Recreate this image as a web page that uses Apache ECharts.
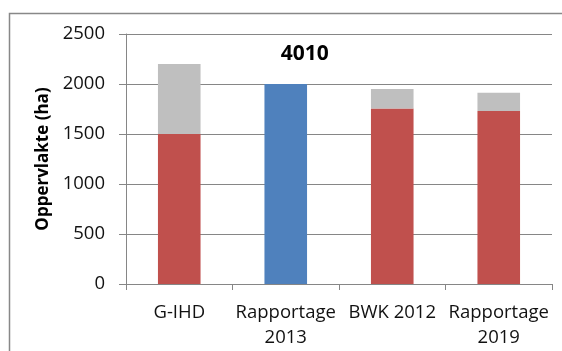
<!DOCTYPE html>
<html>
<head>
<meta charset="utf-8">
<script src="https://cdn.jsdelivr.net/npm/echarts@6/dist/echarts.min.js"></script>
<style>html,body{margin:0;padding:0;background:#fff;}#c{width:562px;height:351px;}</style>
</head>
<body>
<div id="c"></div>
<script>
var categories = ['G-IHD', 'Rapportage\n2013', 'BWK 2012', 'Rapportage\n2019'];
var redValues = [1500, null, 1755, 1730];
var greyValues = [700, null, 195, 182];
var blueValues = [null, 2000, null, null];
var blueLabelText = '4010';
var yTicks = [0, 500, 1000, 1500, 2000, 2500];

var chart = echarts.init(document.getElementById('c'), null, {renderer: 'canvas'});
var font = '"Open Sans", sans-serif';
chart.setOption({
  animation: false,
  backgroundColor: '#ffffff',
  graphic: [{
    type: 'rect',
    shape: {x: 9.5, y: 13.5, width: 600, height: 400},
    style: {fill: 'none', stroke: '#888888', lineWidth: 1.5},
    silent: true
  }],
  grid: {left: 126, right: 10, top: 34, bottom: 67},
  xAxis: {
    type: 'category',
    data: categories,
    axisLine: {lineStyle: {color: '#868686', width: 1}},
    axisTick: {show: true, length: 6, alignWithLabel: false, lineStyle: {color: '#868686'}},
    axisLabel: {color: '#111', fontFamily: font, fontSize: 18.5, lineHeight: 25, margin: 16, interval: 0}
  },
  yAxis: {
    type: 'value',
    min: yTicks[0],
    max: yTicks[yTicks.length - 1],
    interval: 500,
    name: 'Oppervlakte (ha)',
    nameLocation: 'middle',
    nameGap: 66,
    nameTextStyle: {color: '#000', fontFamily: font, fontSize: 17, fontWeight: 'bold'},
    axisLine: {show: true, lineStyle: {color: '#868686', width: 1}},
    axisTick: {show: true, length: 7, lineStyle: {color: '#868686'}},
    splitLine: {lineStyle: {color: '#868686', width: 1}},
    axisLabel: {color: '#111', fontFamily: font, fontSize: 18.5, margin: 21,
      formatter: function (v) { return String(v); }}
  },
  series: [
    {
      type: 'bar', stack: 'total', data: redValues, barWidth: '40%',
      itemStyle: {color: '#C0504D'}
    },
    {
      type: 'bar', stack: 'total', data: greyValues, barWidth: '40%',
      itemStyle: {color: '#BFBFBF'}
    },
    {
      type: 'bar', stack: 'total', data: blueValues, barWidth: '40%',
      itemStyle: {color: '#4F81BD'},
      label: {
        show: true, position: 'top', distance: 5, offset: [19, -14],
        formatter: function () { return blueLabelText; },
        color: '#000', fontFamily: font, fontSize: 21, fontWeight: 'bold'
      }
    }
  ]
});
</script>
</body>
</html>
